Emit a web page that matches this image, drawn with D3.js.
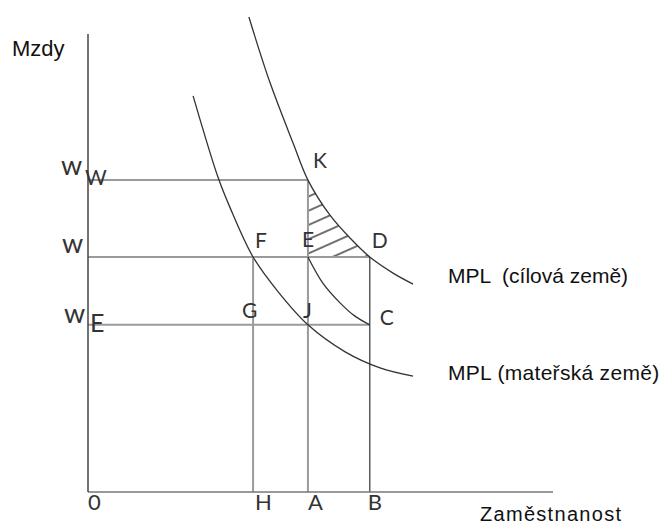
<!DOCTYPE html>
<html><head><meta charset="utf-8">
<script src="https://cdn.jsdelivr.net/npm/d3@7"></script>
<style>
html,body{margin:0;padding:0;background:#fff;}
svg{display:block;}
.axisLbl{font-family:"Liberation Sans",Arial,sans-serif;font-size:21px;fill:#111;white-space:pre;}
.pt{font-family:Lato,"Open Sans",sans-serif;fill:#333;}
</style>
</head><body>
<svg id="c" width="664" height="527"></svg>
<script>
// ---- data (abstract units, 0..100) ----
const employment = {H: 35.5, A: 47.3, B: 60.6};
const wages = {wE: 36.5, w: 51.3, ww: 68.1};
const mplTarget = [[34.6,103.7],[39.1,89.5],[44.1,76.2],[47.3,68.1],[52.0,60.5],[56.3,55.5],[60.6,51.3],[65.6,47.8],[69.9,45.4]];
const mplHome = [[22.6,86.5],[28.0,68.6],[30.5,62.2],[35.5,51.3],[40.9,43.7],[47.3,36.5],[55.3,30.6],[62.8,27.1],[69.9,25.3]];
const mplShift = [[47.3,51.3],[50.5,45.6],[54.2,41.3],[57.4,38.4],[60.6,36.5]];
const axisTitles = ["Mzdy", "Zaměstnanost"];
const curveTitles = ["MPL  (cílová země)", "MPL (mateřská země)"];
const pointNames = ["K","F","E","D","G","J","C"];
const pointXY = [["A","ww"],["H","w"],["A","w"],["B","w"],["H","wE"],["A","wE"],["B","wE"]];
const baseNames = ["0","H","A","B"];

const svg = d3.select("#c");
const x = d3.scaleLinear().domain([0,100]).range([88,553]);
const y = d3.scaleLinear().domain([0,100]).range([492,34]);
const X = k => k==="0" ? x(0) : x(employment[k]);
const Y = k => y(wages[k]);

const line = d3.line().x(d=>x(d[0])).y(d=>y(d[1])).curve(d3.curveCatmullRom.alpha(0.5));

// hatch pattern
const defs = svg.append("defs");
const pat = defs.append("pattern").attr("id","hatch").attr("patternUnits","userSpaceOnUse")
  .attr("width",20).attr("height",13).attr("patternTransform","rotate(-24)");
pat.append("line").attr("x1",0).attr("x2",20).attr("y1",6).attr("y2",6).attr("stroke","#333").attr("stroke-width",1.4);
defs.append("clipPath").attr("id","rectClip").append("rect")
  .attr("x",X("A")).attr("y",Y("ww")).attr("width",X("B")-X("A")).attr("height",Y("w")-Y("ww"));
const area = d3.area().x(d=>x(d[0])).y0(Y("w")).y1(d=>y(d[1])).curve(d3.curveCatmullRom.alpha(0.5));
defs.append("clipPath").attr("id","areaClip").append("path").attr("d",area(mplTarget));
svg.append("g").attr("clip-path","url(#rectClip)")
  .append("g").attr("clip-path","url(#areaClip)")
  .append("rect").attr("x",X("A")).attr("y",Y("ww")).attr("width",X("B")-X("A")).attr("height",Y("w")-Y("ww"))
  .attr("fill","url(#hatch)");

// guide lines
const gray = "#9a9a9a";
const hl = [["ww","A"],["w","B"],["wE","B"]];
hl.forEach(([w,e])=>svg.append("line").attr("x1",x(0)).attr("x2",X(e)).attr("y1",Y(w)).attr("y2",Y(w))
  .attr("stroke",gray).attr("stroke-width",2));
const vl = [["H","w",gray,2],["A","ww",gray,2],["B","w","#333",1.2]];
vl.forEach(([e,w,c,sw])=>svg.append("line").attr("x1",X(e)).attr("x2",X(e)).attr("y1",Y(w)).attr("y2",y(0))
  .attr("stroke",c).attr("stroke-width",sw));

// axes
svg.append("line").attr("x1",x(0)).attr("x2",x(100)).attr("y1",y(0)).attr("y2",y(0)).attr("stroke","#777").attr("stroke-width",1.5);
svg.append("line").attr("x1",x(0)).attr("x2",x(0)).attr("y1",y(0)).attr("y2",y(100)).attr("stroke","#444").attr("stroke-width",1.5);

// curves
[mplTarget, mplHome, mplShift].forEach(d=>svg.append("path").attr("d",line(d)).attr("fill","none")
  .attr("stroke","#333").attr("stroke-width",1.3));

// axis titles
svg.append("text").attr("class","axisLbl").attr("x",12).attr("y",56).style("font-size","22px").text(axisTitles[0]);
svg.append("text").attr("class","axisLbl").attr("x",480).attr("y",521).style("font-size","20px").style("letter-spacing","1.3px").text(axisTitles[1]);
svg.append("text").attr("class","axisLbl").attr("x",448).attr("y",283).text(curveTitles[0]);
svg.append("text").attr("class","axisLbl").attr("x",448).attr("y",380).style("letter-spacing","0.3px").text(curveTitles[1]);

// point labels
const offs = [[5,-12],[2,-9],[-6,-10],[2,-9],[-11,-7],[-5,-7],[10,0]];
pointNames.forEach((n,i)=>{
  const [e,w] = pointXY[i];
  svg.append("text").attr("class","pt").style("font-size","21px")
    .attr("x",X(e)+offs[i][0]).attr("y",Y(w)+offs[i][1]).text(n);
});
const boffs = [[0],[2],[0],[-2]];
baseNames.forEach((n,i)=>{
  svg.append("text").attr("class","pt").style("font-size","22px")
    .attr("x",X(n)+boffs[i][0]).attr("y",y(0)+18).text(n);
});
// wage labels
svg.append("text").attr("class","pt").style("font-size","27px").attr("x",x(0)-27).attr("y",Y("ww")-5).text("w");
svg.append("text").attr("class","pt").style("font-size","21px").attr("x",x(0)-3).attr("y",Y("ww")+5).text("W");
svg.append("text").attr("class","pt").style("font-size","27px").attr("x",x(0)-26).attr("y",Y("w")-4).text("w");
svg.append("text").attr("class","pt").style("font-size","27px").attr("x",x(0)-24).attr("y",Y("wE")-2).text("w");
svg.append("text").attr("class","pt").style("font-size","25px").attr("x",x(0)+2).attr("y",Y("wE")+7).text("E");
</script>
</body></html>
